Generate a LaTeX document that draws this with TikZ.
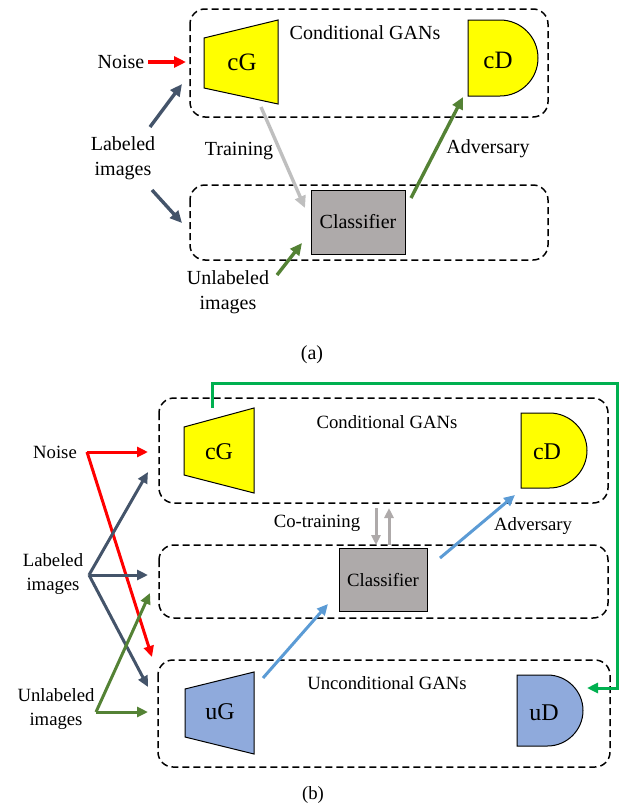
\documentclass[tikz,border=0pt]{standalone}
\usepackage{fontspec}
\setmainfont{Liberation Serif}
\usetikzlibrary{arrows.meta}
\definecolor{slate}{HTML}{44546A}
\definecolor{olive}{HTML}{548235}
\definecolor{skyb}{HTML}{5B9BD5}
\definecolor{lightb}{HTML}{8FAADC}
\definecolor{clsgray}{HTML}{AEAAAA}
\definecolor{arrgray}{HTML}{BFBFBF}
\definecolor{brgreen}{HTML}{00B050}
\definecolor{yel}{HTML}{FFFF00}
\tikzset{
  grp/.style={draw=black, line width=1.5pt, dash pattern=on 7pt off 4pt, rounded corners=15pt},
  shp/.style={draw=black, line width=1pt},
  txta/.style={inner sep=0pt, font=\fontsize{20}{25}\selectfont, align=center},
  txtb/.style={inner sep=0pt, font=\fontsize{18.7}{23.5}\selectfont, align=center},
  biga/.style={inner sep=0pt, font=\fontsize{25}{28}\selectfont},
  bigb/.style={inner sep=0pt, font=\fontsize{24}{27}\selectfont},
  arr/.style={line width=3.4pt, -{Triangle[length=12pt,width=11pt]}},
  arrb/.style={line width=3pt, -{Triangle[length=11pt,width=10pt]}},
  cls/.style={draw=black, line width=1pt, fill=clsgray, inner sep=0pt},
}
\begin{document}
\begin{tikzpicture}[x=1pt,y=-1pt]
\useasboundingbox (0,0) rectangle (627,806);
% ================= (a) =================
\draw[grp] (190,9) rectangle (548,117);
\draw[grp] (190,185) rectangle (548,260);
\draw[shp, fill=yel] (204,38) -- (278,20) -- (278,104) -- (204,88) -- cycle;
\node[biga] (acG) at (242,62) {cG};
\draw[shp, fill=yel] (468,20) -- (500,20) .. controls (521,20) and (538,37) .. (538,58)
   .. controls (538,79) and (521,96) .. (500,96) -- (468,96) -- cycle;
\node[biga] (acD) at (498,60) {cD};
\node[txta] (acond) at (365,33) {Conditional GANs};
\node[txta] (anoise) at (121,62) {Noise};
\node[txta] (alab) at (123,158) {Labeled\\images};
\node[cls, minimum width=94pt, minimum height=64pt, font=\fontsize{20}{23}\selectfont] (acls) at (358,222) {Classifier};
\node[txta] (atrain) at (239,151) {Training};
\node[txta] (aadv) at (488,149) {Adversary};
\node[txta] (aunl) at (228,292) {Unlabeled\\images};
\node[txta] (acap) at (312,355) {(a)};
\coordinate (an1) at (148,62);  \coordinate (an2) at (186,62);
\coordinate (al1) at (150,127); \coordinate (al2) at (182,84);
\coordinate (al3) at (152,190); \coordinate (al4) at (182,223);
\coordinate (at1) at (261,107); \coordinate (at2) at (305,208);
\coordinate (ad1) at (411,198); \coordinate (ad2) at (463,97);
\coordinate (au1) at (277,275); \coordinate (au2) at (302,243);
\draw[arr, red] (an1) -- (an2);
\draw[arr, slate] (al1) -- (al2);
\draw[arr, slate] (al3) -- (al4);
\draw[arr, arrgray] (at1) -- (at2);
\draw[arr, olive] (ad1) -- (ad2);
\draw[arr, olive] (au1) -- (au2);
% ================= (b) =================
\draw[grp] (159,398) rectangle (608,503);
\draw[grp] (159,545) rectangle (608,618);
\draw[grp] (158,660) rectangle (610,767);
\draw[shp, fill=yel] (184,427) -- (254,408) -- (254,493) -- (184,475) -- cycle;
\node[bigb] (bcG) at (219,452) {cG};
\draw[shp, fill=yel] (521,413) -- (549.5,413) .. controls (570,413) and (587,430) .. (587,450.5)
   .. controls (587,471) and (570,488) .. (549.5,488) -- (521,488) -- cycle;
\node[bigb] (bcD) at (547,452) {cD};
\draw[shp, fill=lightb] (185,689) -- (254,672) -- (254,754) -- (185,737) -- cycle;
\node[bigb] (buG) at (220,712) {uG};
\draw[shp, fill=lightb] (517,675) -- (547.5,675) .. controls (567,675) and (583,691) .. (583,710.5)
   .. controls (583,730) and (567,746) .. (547.5,746) -- (517,746) -- cycle;
\node[bigb] (buD) at (544,713) {uD};
\node[txtb] (bcond) at (387,422) {Conditional GANs};
\node[txtb] (bucond) at (387,683) {Unconditional GANs};
\node[txtb] (bnoise) at (55,452) {Noise};
\node[txtb] (blab) at (53,574) {Labeled\\images};
\node[txtb] (bunl) at (56,709) {Unlabeled\\images};
\node[cls, minimum width=88pt, minimum height=63pt, font=\fontsize{18.7}{22}\selectfont] (bcls) at (383,580) {Classifier};
\node[txtb] (bcot) at (317,523) {Co-training};
\node[txtb] (badv) at (533,526) {Adversary};
\node[txtb] (bcap) at (313,795) {(b)};
\coordinate (bn0) at (87,452);
\coordinate (bn1) at (148,452); \coordinate (bn2) at (152,657);
\coordinate (bl0) at (89,575);
\coordinate (bl1) at (148,472); \coordinate (bl2) at (148,575); \coordinate (bl3) at (148,687);
\coordinate (bu0) at (96,712);
\coordinate (bu1) at (148,712); \coordinate (bu2) at (150,593);
\coordinate (bc1) at (376,508); \coordinate (bc2) at (376,545);
\coordinate (bc3) at (389,545); \coordinate (bc4) at (389,508);
\coordinate (bb1) at (440,558); \coordinate (bb2) at (515,495);
\coordinate (bb3) at (263,678); \coordinate (bb4) at (328,604);
\coordinate (bg0) at (212,408); \coordinate (bg1) at (212,383);
\coordinate (bg2) at (617,383); \coordinate (bg3) at (617,688);
\coordinate (bg4) at (587,688);
\draw[arrb, red] (bn0) -- (bn1);
\draw[arrb, red] (bn0) -- (bn2);
\draw[arrb, slate] (bl0) -- (bl1);
\draw[arrb, slate] (bl0) -- (bl2);
\draw[arrb, slate] (bl0) -- (bl3);
\draw[arrb, olive] (bu0) -- (bu1);
\draw[arrb, olive] (bu0) -- (bu2);
\draw[line width=3pt, clsgray, -{Triangle[length=10pt,width=9pt]}] (bc1) -- (bc2);
\draw[line width=3pt, clsgray, -{Triangle[length=10pt,width=9pt]}] (bc3) -- (bc4);
\draw[arrb, skyb] (bb1) -- (bb2);
\draw[arrb, skyb] (bb3) -- (bb4);
\draw[line width=3pt, brgreen, -{Triangle[length=11pt,width=10pt]}] (bg0) -- (bg1) -- (bg2) -- (bg3) -- (bg4);
\end{tikzpicture}
\end{document}
